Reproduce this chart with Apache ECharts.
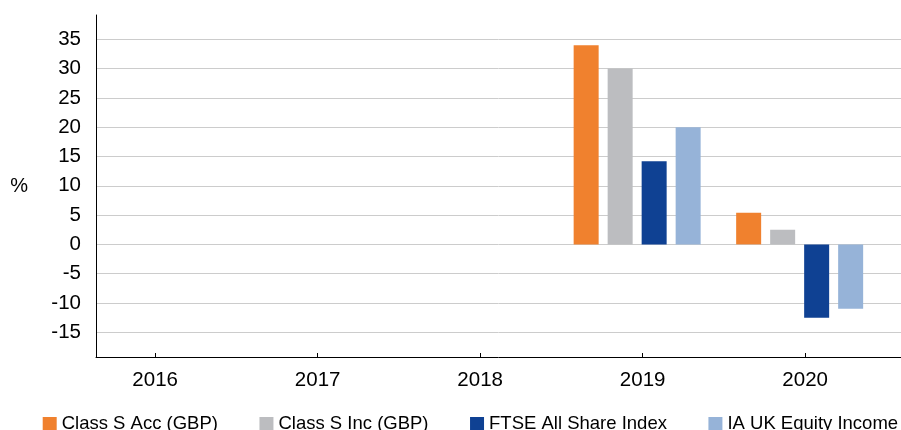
<!DOCTYPE html>
<html>
<head>
<meta charset="utf-8">
<script src="https://cdn.jsdelivr.net/npm/echarts@6/dist/echarts.min.js"></script>
<style>
  html, body { margin: 0; padding: 0; background: #fff; }
  #chart { width: 901px; height: 430px; }
</style>
</head>
<body>
<div id="chart"></div>
<script>
// discrete annual performance, %
const years = ['2016', '2017', '2018', '2019', '2020'];
const classSAcc = [null, null, null, 34.0, 5.4];
const classSInc = [null, null, null, 30.0, 2.5];
const ftseAllShare = [null, null, null, 14.2, -12.5];
const iaUkEquityIncome = [null, null, null, 20.0, -11.0];

const seriesNames = ['Class S Acc (GBP)', 'Class S Inc (GBP)', 'FTSE All Share Index', 'IA UK Equity Income'];
const seriesColors = ['#F0812E', '#BCBDC0', '#0F4193', '#96B3D8'];

const yMin = -19.22;
const yMax = 39.15;
const font = "'Liberation Sans', Arial, sans-serif";

const chart = echarts.init(document.getElementById('chart'));

const hiddenY = (gridIndex) => ({
    type: 'value', gridIndex: gridIndex, min: yMin, max: yMax, show: false
});

const option = {
    animation: false,
    textStyle: { fontFamily: font, color: '#000' },
    grid: [
        // frame: y axis, gridlines, x axis line
        { left: 96, right: 0, top: 15, bottom: 73, outerBoundsMode: 'none' },
        // year labels and ticks
        { left: 73.9, width: 812.5, top: 15, bottom: 73, outerBoundsMode: 'none' },
        // bars (groups sit slightly left of the ticks)
        { left: 68.4, width: 812.5, top: 15, bottom: 73, outerBoundsMode: 'none' }
    ],
    xAxis: [
        {
            type: 'category', gridIndex: 0, data: years,
            axisLine: { show: true, onZero: false, lineStyle: { color: '#000', width: 1 } },
            axisTick: { show: false },
            axisLabel: { show: false },
            splitLine: { show: false }
        },
        {
            type: 'category', gridIndex: 1, data: years,
            axisLine: { show: false, onZero: false },
            axisTick: { show: true, inside: true, length: 4, alignWithLabel: true, lineStyle: { color: '#000' } },
            axisLabel: { fontSize: 20.5, color: '#000', margin: 13, fontFamily: font },
            splitLine: { show: false }
        },
        {
            type: 'category', gridIndex: 2, data: years, show: false
        }
    ],
    yAxis: [
        {
            type: 'value', gridIndex: 0, min: yMin, max: yMax, splitNumber: 12,
            name: '%', nameLocation: 'middle', nameRotate: 0, nameGap: 68,
            nameTextStyle: { fontSize: 20, color: '#000', fontFamily: font },
            axisLine: { show: true, lineStyle: { color: '#000', width: 1 } },
            axisTick: { show: false },
            axisLabel: {
                fontSize: 20.5, color: '#000', margin: 15, fontFamily: font,
                showMinLabel: false, showMaxLabel: false,
                formatter: (v) => (Math.abs(v % 5) < 1e-6 ? String(Math.round(v)) : '')
            },
            splitLine: { show: true, showMinLine: false, showMaxLine: false, lineStyle: { color: '#CCCCCC', width: 1 } }
        },
        hiddenY(1),
        hiddenY(2)
    ],
    legend: {
        left: 42.7, top: 414.5, width: 1200, padding: 0,
        itemWidth: 14, itemHeight: 14, itemGap: 41.5,
        icon: 'rect',
        textStyle: { fontSize: 18.5, color: '#000', fontFamily: font },
        data: seriesNames
    },
    series: [classSAcc, classSInc, ftseAllShare, iaUkEquityIncome].map((vals, i) => ({
        name: seriesNames[i],
        type: 'bar',
        xAxisIndex: 2,
        yAxisIndex: 2,
        data: vals,
        barWidth: 25,
        barGap: '36%',
        itemStyle: { color: seriesColors[i] }
    }))
};

chart.setOption(option);
</script>
</body>
</html>
